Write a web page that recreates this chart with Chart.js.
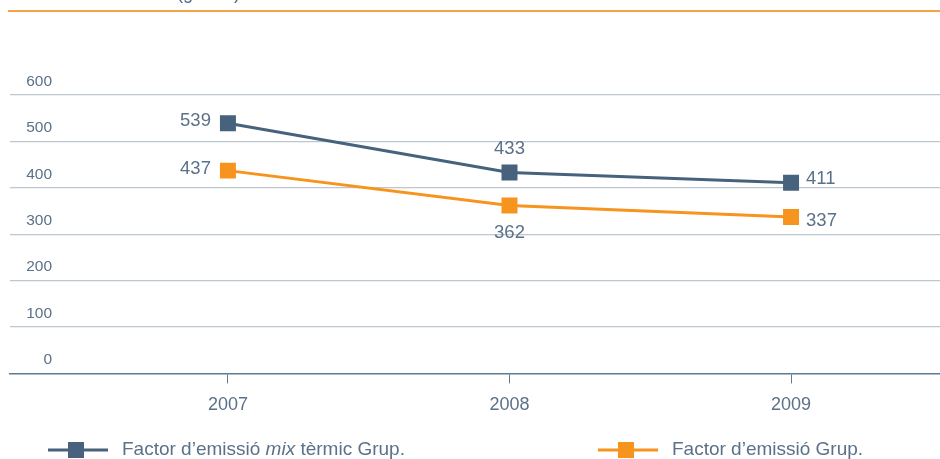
<!DOCTYPE html>
<html>
<head>
<meta charset="utf-8">
<script src="https://cdn.jsdelivr.net/npm/chart.js@4.4.1/dist/chart.umd.min.js"></script>
<style>
  html, body { margin: 0; padding: 0; background: #fff; }
  #wrap { position: relative; width: 940px; height: 459px; }
</style>
</head>
<body>
<div id="wrap"><canvas id="chart" width="940" height="459"></canvas></div>
<script>
// dades
const years       = ['2007', '2008', '2009'];
const mixTermic   = [539, 433, 411];
const factorGrup  = [437, 362, 337];
const yTickValues = [0, 100, 200, 300, 400, 500, 600];
const unitLabel   = '(g/kWh)';
// text de llegenda en trossos: [text, cursiva?]
const legendMix   = [['Factor d’emissió ', false], ['mix', true], [' tèrmic Grup.', false]];
const legendGrup  = [['Factor d’emissió Grup.', false]];

const BLUE   = '#46627d';
const ORANGE = '#f7941d';
const TEXT   = '#5b7189';
const GRID   = '#bcc7cf';
const AXIS   = '#5f7b92';
const FONT   = '"Liberation Sans", Arial, sans-serif';

const toPoints = vals => years.map((y, i) => ({ x: Number(y), y: vals[i] }));

// on va cada etiqueta de valor respecte al punt
const labelPlace = [
  ['left', 'top', 'right'],
  ['left', 'bottom', 'right'],
];

const decorations = {
  id: 'decorations',
  afterDatasetsDraw(chart) {
    const { ctx, scales: { y } } = chart;
    ctx.save();

    // filet superior i unitat
    ctx.strokeStyle = '#f6a244';
    ctx.lineWidth = 2;
    ctx.beginPath();
    ctx.moveTo(8, 11);
    ctx.lineTo(940, 11);
    ctx.stroke();
    ctx.fillStyle = '#4c6a85';
    ctx.font = '18px ' + FONT;
    ctx.textAlign = 'left';
    ctx.textBaseline = 'alphabetic';
    ctx.fillText(unitLabel, 177, -1);

    // etiquetes de l'eix Y, sobre cada línia
    ctx.font = '15.5px ' + FONT;
    ctx.fillStyle = TEXT;
    ctx.textAlign = 'right';
    ctx.textBaseline = 'middle';
    yTickValues.forEach(v => {
      ctx.fillText(String(v), 52, y.getPixelForValue(v) - 13.5);
    });

    // etiquetes de valor
    ctx.font = '18.5px ' + FONT;
    chart.data.datasets.forEach((ds, di) => {
      const meta = chart.getDatasetMeta(di);
      meta.data.forEach((pt, i) => {
        const val = ds.data[i].y;
        const where = labelPlace[di][i];
        let tx = pt.x, ty = pt.y;
        if (where === 'left')   { ctx.textAlign = 'right'; tx -= 17; ty -= 2; }
        if (where === 'right')  { ctx.textAlign = 'left';  tx += 15; ty += di === 0 ? -4 : 4; }
        if (where === 'top')    { ctx.textAlign = 'center'; ty -= 24; }
        if (where === 'bottom') { ctx.textAlign = 'center'; ty += 27; }
        ctx.fillText(String(val), tx, ty);
      });
    });

    // llegenda
    const drawKey = (x0, color, parts) => {
      const cy = 450;
      ctx.strokeStyle = color;
      ctx.lineWidth = 3;
      ctx.beginPath();
      ctx.moveTo(x0, cy);
      ctx.lineTo(x0 + 60, cy);
      ctx.stroke();
      ctx.fillStyle = color;
      ctx.fillRect(x0 + 20, cy - 8, 16, 16);
      let tx = x0 + 74;
      ctx.fillStyle = TEXT;
      ctx.textAlign = 'left';
      ctx.textBaseline = 'middle';
      parts.forEach(([t, italic]) => {
        ctx.font = (italic ? 'italic ' : '') + '19px ' + FONT;
        ctx.fillText(t, tx, cy);
        tx += ctx.measureText(t).width;
      });
    };
    drawKey(48, BLUE, legendMix);
    drawKey(598, ORANGE, legendGrup);

    ctx.restore();
  }
};

new Chart(document.getElementById('chart'), {
  type: 'line',
  data: {
    datasets: [
      {
        label: 'Factor d’emissió mix tèrmic Grup.',
        data: toPoints(mixTermic),
        borderColor: BLUE,
        backgroundColor: BLUE,
        borderWidth: 3,
        pointStyle: 'rect',
        pointRadius: 11.3,
        pointBorderWidth: 0,
        tension: 0,
      },
      {
        label: 'Factor d’emissió Grup.',
        data: toPoints(factorGrup),
        borderColor: ORANGE,
        backgroundColor: ORANGE,
        borderWidth: 3,
        pointStyle: 'rect',
        pointRadius: 11.3,
        pointBorderWidth: 0,
        tension: 0,
      },
    ],
  },
  options: {
    responsive: false,
    animation: false,
    events: [],
    layout: { autoPadding: false, padding: { left: 10, right: 0, top: 95, bottom: 32 } },
    plugins: { legend: { display: false }, tooltip: { enabled: false } },
    scales: {
      x: {
        type: 'linear',
        min: Number(years[0]) - 0.774,
        max: Number(years[years.length - 1]) + 0.529,
        border: { display: true, color: AXIS, width: 1.5 },
        grid: { drawOnChartArea: false, drawTicks: true, tickLength: 10, color: AXIS, lineWidth: 1 },
        ticks: {
          stepSize: 1,
          includeBounds: false,
          padding: 11,
          color: TEXT,
          font: { family: FONT, size: 18 },
          callback: v => String(v),
        },
      },
      y: {
        min: 0,
        max: 600,
        border: { display: false },
        grid: {
          drawTicks: false,
          color: c => (c.tick.value === 0 ? 'rgba(0,0,0,0)' : GRID),
          lineWidth: 1.3,
        },
        ticks: { stepSize: 100, display: false },
      },
    },
  },
  plugins: [decorations],
});
</script>
</body>
</html>
